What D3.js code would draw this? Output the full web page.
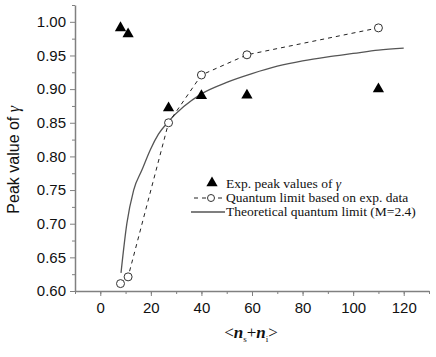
<!DOCTYPE html>
<html lang="en">
<head>
<meta charset="UTF-8">
<title>peak value chart</title>
<script src="https://d3js.org/d3.v7.min.js"></script>
<style>
  body { margin: 0; background: #fff; }
  svg { display: block; }
</style>
</head>
<body>
<svg id="chart" width="436" height="357"></svg>
<script>
// experimental peak values (triangles)
const expX = [8, 11, 27, 40, 58, 110];
const expY = [0.991, 0.982, 0.872, 0.890, 0.891, 0.900];

// quantum limit based on exp. data (dashed line + open circles)
const qlX = [8, 11, 27, 40, 58, 110];
const qlY = [0.611, 0.621, 0.850, 0.921, 0.951, 0.991];

// theoretical quantum limit M=2.4 (solid line)
const thX = [8.2, 10.5, 13.2, 16.5, 19.8, 23, 27, 33, 40, 50, 60, 70, 80, 90, 100, 110, 120];
const thY = [0.627, 0.700, 0.750, 0.780, 0.810, 0.833, 0.852, 0.874, 0.893, 0.910, 0.923, 0.934, 0.942, 0.948, 0.953, 0.958, 0.961];

const xTicks = [0, 20, 40, 60, 80, 100, 120];
const yTicks = [0.60, 0.65, 0.70, 0.75, 0.80, 0.85, 0.90, 0.95, 1.00];

const svg = d3.select("#chart");
const axisColor = "#808080";

const x = d3.scaleLinear().domain([-10, 130]).range([75, 429]);
const y = d3.scaleLinear().domain([0.6, 1.025]).range([291, 5]);

// minor ticks first so majors draw on top
svg.append("g")
  .attr("transform", `translate(0,${y(0.6)})`)
  .call(d3.axisBottom(x).tickValues(d3.range(-10, 131, 10)).tickSize(3).tickFormat(""))
  .call(g => g.select(".domain").remove())
  .call(g => g.selectAll("line").attr("stroke", axisColor));

svg.append("g")
  .attr("transform", `translate(${x(-10)},0)`)
  .call(d3.axisLeft(y).tickValues(d3.range(0, 9).map(i => 0.625 + i * 0.05)).tickSize(3).tickFormat(""))
  .call(g => g.select(".domain").remove())
  .call(g => g.selectAll("line").attr("stroke", axisColor));

const xAxis = svg.append("g")
  .attr("transform", `translate(0,${y(0.6)})`)
  .call(d3.axisBottom(x).tickValues(xTicks).tickSize(5).tickSizeOuter(0).tickPadding(6).tickFormat(d3.format("d")));

const yAxis = svg.append("g")
  .attr("transform", `translate(${x(-10)},0)`)
  .call(d3.axisLeft(y).tickValues(yTicks).tickSize(5).tickSizeOuter(0).tickPadding(4).tickFormat(d3.format(".2f")));

[xAxis, yAxis].forEach(g => {
  g.select(".domain").attr("stroke", axisColor).attr("stroke-width", 1.5);
  g.selectAll("line").attr("stroke", axisColor);
  g.selectAll("text")
    .attr("fill", "#111")
    .style("font-family", "'Liberation Sans', Arial, sans-serif")
    .style("font-size", "15px");
});

// theoretical curve
const thData = thX.map((d, i) => ({x: d, y: thY[i]}));
svg.append("path")
  .datum(thData)
  .attr("fill", "none")
  .attr("stroke", "#555")
  .attr("stroke-width", 1.3)
  .attr("d", d3.line().x(d => x(d.x)).y(d => y(d.y)).curve(d3.curveMonotoneX));

// dashed quantum limit line
const qlData = qlX.map((d, i) => ({x: d, y: qlY[i]}));
svg.append("path")
  .datum(qlData)
  .attr("fill", "none")
  .attr("stroke", "#222")
  .attr("stroke-width", 1)
  .attr("stroke-dasharray", "4,4")
  .attr("d", d3.line().x(d => x(d.x)).y(d => y(d.y)));

svg.append("g").selectAll("circle")
  .data(qlData)
  .join("circle")
  .attr("cx", d => x(d.x))
  .attr("cy", d => y(d.y))
  .attr("r", 4)
  .attr("fill", "#fff")
  .attr("stroke", "#333")
  .attr("stroke-width", 1);

// triangles
const tri = d3.symbol().type(d3.symbolTriangle).size(55);
const expData = expX.map((d, i) => ({x: d, y: expY[i]}));
svg.append("g").selectAll("path")
  .data(expData)
  .join("path")
  .attr("transform", d => `translate(${x(d.x)},${y(d.y)})`)
  .attr("d", tri)
  .attr("fill", "#000");

// legend
const lg = svg.append("g").style("font-family", "'Liberation Serif', 'Times New Roman', serif").style("font-size", "13.5px").attr("fill", "#111");
const rows = [184, 198, 212];
lg.append("path").attr("transform", `translate(212,${rows[0] - 1})`).attr("d", tri).attr("fill", "#000");
lg.append("text").attr("x", 226).attr("y", rows[0] + 4).text("Exp. peak values of ")
  .append("tspan").style("font-style", "italic").text("γ");
lg.append("line").attr("x1", 194).attr("x2", 226).attr("y1", rows[1]).attr("y2", rows[1])
  .attr("stroke", "#222").attr("stroke-dasharray", "4,4");
lg.append("circle").attr("cx", 211).attr("cy", rows[1]).attr("r", 3.5).attr("fill", "#fff").attr("stroke", "#333");
lg.append("text").attr("x", 226).attr("y", rows[1] + 4).text("Quantum limit based on exp. data");
lg.append("line").attr("x1", 191).attr("x2", 225).attr("y1", rows[2]).attr("y2", rows[2])
  .attr("stroke", "#555").attr("stroke-width", 1.3);
lg.append("text").attr("x", 226).attr("y", rows[2] + 4).text("Theoretical quantum limit (M=2.4)");

// axis titles
svg.append("text")
  .attr("transform", `translate(19,${y(0.795)}) rotate(-90)`)
  .attr("text-anchor", "middle")
  .style("font-family", "'Liberation Sans', Arial, sans-serif")
  .style("font-size", "16px")
  .attr("fill", "#111")
  .text("Peak value of ")
  .append("tspan").style("font-family", "'Liberation Serif', serif").style("font-style", "italic").text("γ");

const xt = svg.append("text")
  .attr("x", 251).attr("y", 338)
  .attr("text-anchor", "middle")
  .style("font-family", "'Liberation Serif', 'Times New Roman', serif")
  .style("font-size", "17px")
  .attr("fill", "#111");
xt.append("tspan").text("<");
xt.append("tspan").style("font-style", "italic").style("font-weight", "bold").text("n");
xt.append("tspan").attr("dy", 4).style("font-size", "9px").text("s");
xt.append("tspan").attr("dy", -4).text("+");
xt.append("tspan").style("font-style", "italic").style("font-weight", "bold").text("n");
xt.append("tspan").attr("dy", 4).style("font-size", "9px").text("i");
xt.append("tspan").attr("dy", -4).text(">");
</script>
</body>
</html>
